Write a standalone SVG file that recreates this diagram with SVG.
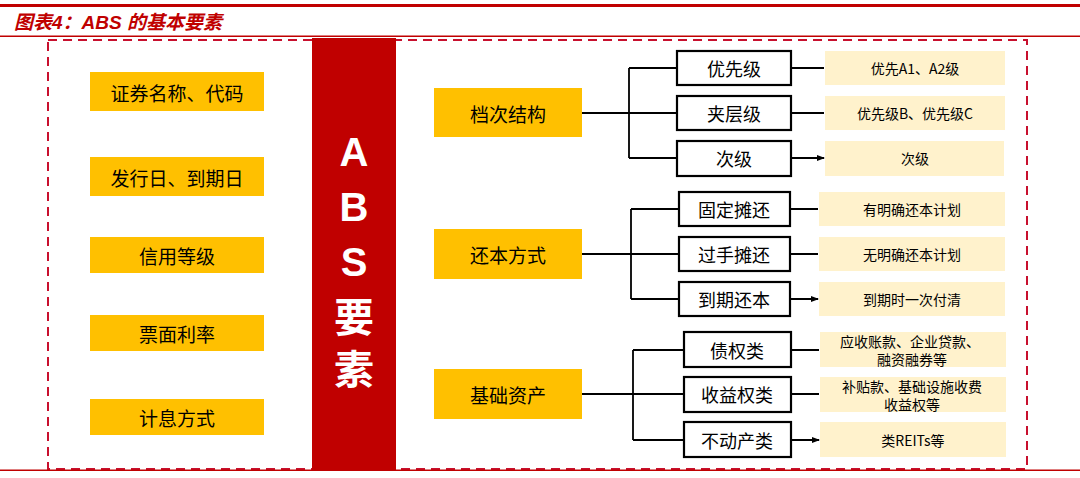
<svg xmlns="http://www.w3.org/2000/svg" width="1080" height="478" viewBox="0 0 1080 478">
<style>
.ch{font-family:"Noto Sans CJK SC","Noto Sans CJK SC",sans-serif;fill:#000;text-anchor:middle;dominant-baseline:central}
.o{fill:#FFC000}
.w{fill:#fff;stroke:#000;stroke-width:2.2}
.l{fill:#FFF2CC}
.t1{font-size:19px}
.t2{font-size:18px}
.t3{font-size:14px}
.c{stroke:#000;stroke-width:1.8;fill:none}
</style>
<defs><marker id="ar" markerWidth="8" markerHeight="8" refX="7" refY="4" orient="auto" markerUnits="userSpaceOnUse"><path d="M0,1 L8,4 L0,7 Z" fill="#000"/></marker></defs>
<rect width="1080" height="478" fill="#fff"/>
<rect x="0" y="4" width="1080" height="3" fill="#C00000"/>
<text x="14" y="29" font-family="Liberation Sans,'Noto Sans CJK SC',sans-serif" font-size="19" font-weight="bold" font-style="italic" fill="#C00000">图表4：ABS 的基本要素</text>
<rect x="0" y="35.5" width="1080" height="1.5" fill="#C00000"/>
<rect x="48" y="40" width="979" height="429" fill="none" stroke="#C8102E" stroke-width="2" stroke-dasharray="9,6"/>
<rect x="0" y="469.5" width="1080" height="1.5" fill="#C00000"/>
<g id="center"><rect x="312" y="38" width="84" height="432" fill="#C00000"/>
<g font-family="Liberation Sans,'Noto Sans CJK SC',sans-serif" font-size="40" font-weight="bold" fill="#fff" text-anchor="middle">
<text x="354" y="166">A</text><text x="354" y="221">B</text><text x="354" y="276">S</text><text x="354" y="332">要</text><text x="354" y="384">素</text></g></g>
<g id="left">
<rect class="o" x="90" y="72" width="174" height="39"/><text class="ch t1" x="177" y="92">证券名称、代码</text>
<rect class="o" x="90" y="157" width="174" height="39"/><text class="ch t1" x="177" y="177">发行日、到期日</text>
<rect class="o" x="90" y="237" width="174" height="36"/><text class="ch t1" x="177" y="255">信用等级</text>
<rect class="o" x="90" y="315" width="174" height="36"/><text class="ch t1" x="177" y="333">票面利率</text>
<rect class="o" x="90" y="399" width="174" height="36"/><text class="ch t1" x="177" y="417">计息方式</text>
</g>
<g id="connectors">
<path class="c" d="M582,113 H677 M629,68 V158 M629,68 H677 M629,158 H677"/>
<path class="c" d="M582,254 H679 M631,209 V299 M631,209 H679 M631,299 H679"/>
<path class="c" d="M582,394 H684 M633,350 V440 M633,350 H684 M633,440 H684"/>
<path class="c" marker-end="url(#ar)" d="M791,68 H824 M791,113 H824 M791,158 H824"/>
<path class="c" marker-end="url(#ar)" d="M790,209 H818 M790,254 H818 M790,299 H818"/>
<path class="c" marker-end="url(#ar)" d="M791,350 H819 M791,394 H819 M791,440 H819"/>
</g>
<g id="mid">
<rect class="o" x="434" y="88" width="148" height="49"/><text class="ch t1" x="508" y="113">档次结构</text>
<rect class="o" x="434" y="229" width="148" height="50"/><text class="ch t1" x="508" y="254">还本方式</text>
<rect class="o" x="434" y="369" width="148" height="50"/><text class="ch t1" x="508" y="394">基础资产</text>
</g>
<g id="children">
<rect class="w" x="677" y="51" width="114" height="34"/><text class="ch t2" x="734" y="68">优先级</text>
<rect class="w" x="677" y="96" width="114" height="34"/><text class="ch t2" x="734" y="113">夹层级</text>
<rect class="w" x="677" y="141" width="114" height="35"/><text class="ch t2" x="734" y="158">次级</text>
<rect class="w" x="679" y="192" width="111" height="34"/><text class="ch t2" x="734" y="209">固定摊还</text>
<rect class="w" x="679" y="237" width="111" height="34"/><text class="ch t2" x="734" y="254">过手摊还</text>
<rect class="w" x="679" y="282" width="111" height="34"/><text class="ch t2" x="734" y="299">到期还本</text>
<rect class="w" x="684" y="332" width="107" height="35"/><text class="ch t2" x="737" y="350">债权类</text>
<rect class="w" x="684" y="377" width="107" height="35"/><text class="ch t2" x="737" y="394">收益权类</text>
<rect class="w" x="684" y="422" width="107" height="35"/><text class="ch t2" x="737" y="440">不动产类</text>
</g>
<g id="details">
<rect class="l" x="825" y="51" width="180" height="34"/><text class="ch t3" x="915" y="68">优先A1、A2级</text>
<rect class="l" x="825" y="96" width="180" height="34"/><text class="ch t3" x="915" y="113">优先级B、优先级C</text>
<rect class="l" x="825" y="141" width="179" height="35"/><text class="ch t3" x="915" y="158">次级</text>
<rect class="l" x="819" y="192" width="186" height="34"/><text class="ch t3" x="912" y="209">有明确还本计划</text>
<rect class="l" x="819" y="237" width="186" height="34"/><text class="ch t3" x="912" y="254">无明确还本计划</text>
<rect class="l" x="819" y="282" width="186" height="34"/><text class="ch t3" x="912" y="299">到期时一次付清</text>
<rect class="l" x="820" y="332" width="186" height="35"/><text class="ch t3" x="910" y="341">应收账款、企业贷款、</text><text class="ch t3" x="912" y="359">融资融券等</text>
<rect class="l" x="820" y="377" width="186" height="35"/><text class="ch t3" x="912" y="386">补贴款、基础设施收费</text><text class="ch t3" x="912" y="404">收益权等</text>
<rect class="l" x="820" y="422" width="186" height="35"/><text class="ch t3" x="913" y="440">类REITs等</text>
</g>
</svg>
